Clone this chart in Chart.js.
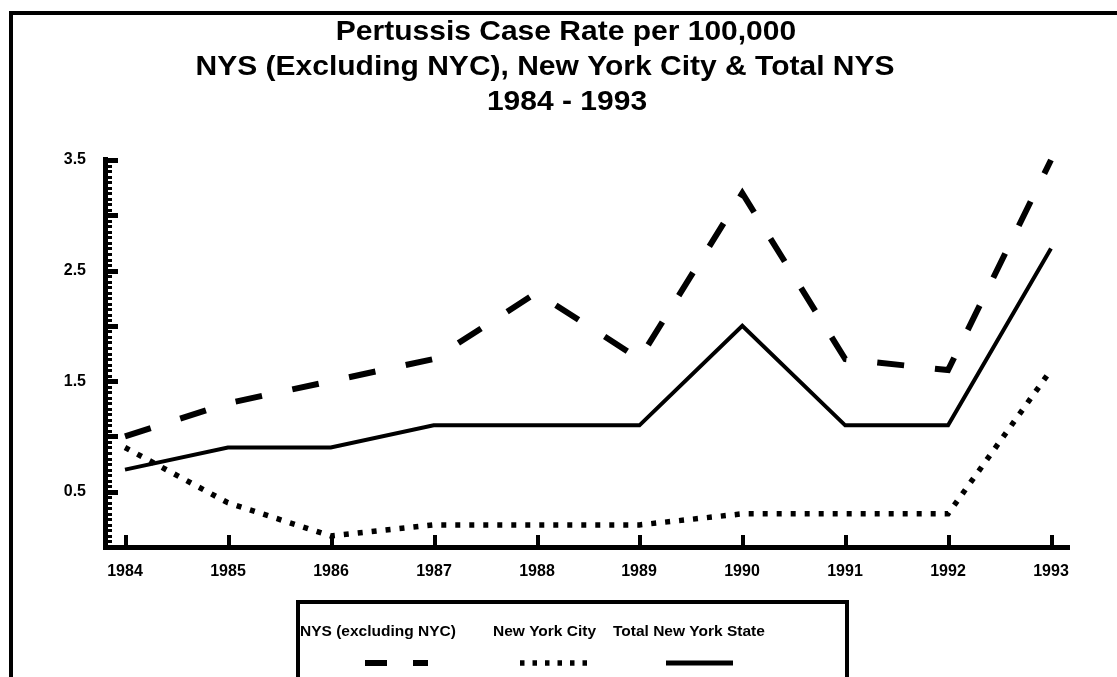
<!DOCTYPE html>
<html>
<head>
<meta charset="utf-8">
<script src="https://cdn.jsdelivr.net/npm/chart.js@4.4.1/dist/chart.umd.min.js"></script>
<style>
  html, body { margin: 0; padding: 0; background: #fff; }
  #wrap { width: 1117px; height: 677px; position: relative; }
</style>
</head>
<body>
<div id="wrap"><canvas id="myChart" width="1117" height="677"></canvas></div>
<script>
// data
const years = [1984, 1985, 1986, 1987, 1988, 1989, 1990, 1991, 1992, 1993];
const nysExclNyc = [1.0, 1.3, 1.5, 1.7, 2.3, 1.7, 3.2, 1.7, 1.6, 3.5];
const nyc = [0.9, 0.4, 0.1, 0.2, 0.2, 0.2, 0.3, 0.3, 0.3, 1.6];
const totalNys = [0.7, 0.9, 0.9, 1.1, 1.1, 1.1, 2.0, 1.1, 1.1, 2.7];
const seriesLabels = ["NYS (excluding NYC)", "New York City", "Total New York State"];
const yTickLabels = [0.5, 1.5, 2.5, 3.5];
const titleLines = ["Pertussis Case Rate per 100,000", "NYS (Excluding NYC), New York City & Total NYS", "1984 - 1993"];

const FONT = "'Liberation Sans', Arial, sans-serif";

function points(vals) {
    return years.map((y, i) => ({ x: y, y: vals[i] }));
}

const styles = [
    { width: 6, dash: [27, 31] },
    { width: 5.5, dash: [5, 9] },
    { width: 4, dash: [] }
];

// axes, ticks, title, legend and frame drawn against the chart's own scales
const decor = {
    id: 'decor',
    beforeDatasetsDraw(chart) {
        const ctx = chart.ctx;
        const xs = chart.scales.x, ys = chart.scales.y;
        const area = chart.chartArea;
        ctx.save();
        ctx.fillStyle = '#000';
        ctx.strokeStyle = '#000';

        // frame
        ctx.fillRect(9, 11, 1117, 4);
        ctx.fillRect(9, 11, 4, 677);

        // title (slightly squashed, like the original)
        ctx.font = 'bold 30px ' + FONT;
        ctx.textAlign = 'center';
        ctx.textBaseline = 'alphabetic';
        const titleX = [566, 545, 567];
        titleLines.forEach((t, i) => {
            const by = 40 + i * 35;
            ctx.save();
            ctx.translate(titleX[i], by);
            ctx.scale(1, 0.93);
            ctx.fillText(t, 0, 0);
            ctx.restore();
        });

        // y axis
        const y0 = ys.getPixelForValue(0);
        const yTop = ys.getPixelForValue(3.5);
        ctx.fillRect(area.left - 4, yTop - 3, 5, y0 - yTop + 6);
        for (let k = 1; k <= 70; k++) {
            const v = k * 0.05;
            const py = Math.round(ys.getPixelForValue(v));
            if (k % 10 === 0) {
                ctx.fillRect(area.left - 4, py - 2, 15, 5);
            } else {
                ctx.fillRect(area.left - 4, py - 1, 9, 3);
            }
        }
        ctx.font = 'bold 16px ' + FONT;
        ctx.textAlign = 'right';
        ctx.textBaseline = 'middle';
        yTickLabels.forEach(v => ctx.fillText(v.toFixed(1), 86, ys.getPixelForValue(v)));

        // x axis
        ctx.fillRect(area.left - 4, y0 - 2, area.right - area.left + 4, 5);
        ctx.textAlign = 'center';
        ctx.textBaseline = 'alphabetic';
        years.forEach(yr => {
            const px = Math.round(xs.getPixelForValue(yr));
            ctx.fillRect(px - 1, y0 - 12, 4, 12);
            ctx.fillText(String(yr), px, 576);
        });

        // legend
        ctx.lineWidth = 4;
        ctx.strokeRect(298, 602, 549, 100);
        ctx.font = 'bold 15.5px ' + FONT;
        ctx.textAlign = 'left';
        const legX = [300, 493, 613];
        const sampleX = [[365, 428], [520, 587], [666, 733]];
        const sampleDash = [[22, 26], [4.5, 8], []];
        seriesLabels.forEach((lab, i) => {
            ctx.fillText(lab, legX[i], 636);
            ctx.beginPath();
            ctx.lineWidth = i === 2 ? 5 : styles[i].width;
            ctx.setLineDash(sampleDash[i]);
            ctx.moveTo(sampleX[i][0], 663);
            ctx.lineTo(sampleX[i][1], 663);
            ctx.stroke();
        });
        ctx.setLineDash([]);
        ctx.restore();
    }
};

new Chart("myChart", {
    type: "line",
    data: {
        datasets: [nysExclNyc, nyc, totalNys].map((vals, i) => ({
            label: seriesLabels[i],
            data: points(vals),
            borderColor: '#000',
            borderWidth: styles[i].width,
            borderDash: styles[i].dash,
            borderCapStyle: 'butt',
            borderJoinStyle: 'miter',
            pointRadius: 0,
            tension: 0,
            fill: false,
            clip: false
        }))
    },
    options: {
        responsive: false,
        animation: false,
        devicePixelRatio: 1,
        layout: { padding: { left: 107, top: 160, right: 47, bottom: 130 } },
        scales: {
            x: { type: 'linear', display: false, min: 1983.825, max: 1993.185 },
            y: { type: 'linear', display: false, min: 0, max: 3.5 }
        },
        plugins: {
            legend: { display: false },
            title: { display: false },
            tooltip: { enabled: false }
        }
    },
    plugins: [decor]
});
</script>
</body>
</html>
